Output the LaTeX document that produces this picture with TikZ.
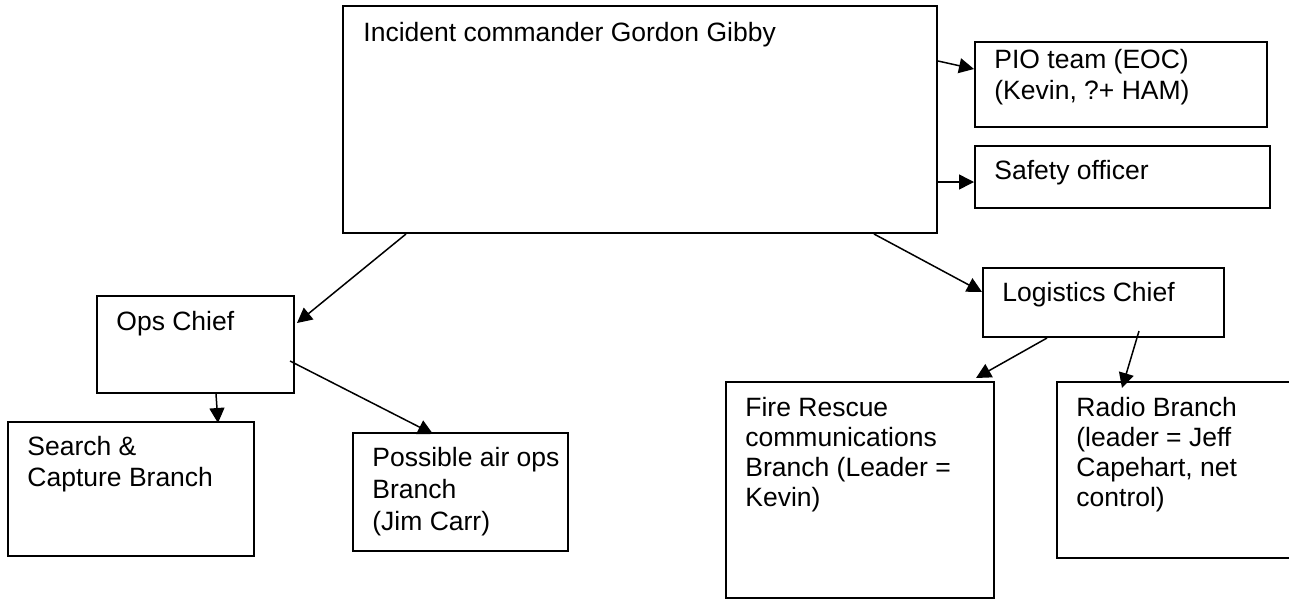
\documentclass[tikz,border=0pt]{standalone}
\usepackage{fontspec}
\setmainfont{Liberation Sans}
\usetikzlibrary{fit}
\usetikzlibrary{arrows.meta}

\tikzset{
  box/.style = {draw, line width=1pt, inner sep=0pt},
  boxtext/.style = {anchor=base west, align=left, inner sep=0pt,
                    font=\fontsize{13.25}{15.25}\selectfont},
  link/.style = {line width=0.75pt, -{Triangle[length=7.5pt,width=7.5pt]}}
}

\begin{document}
\begin{tikzpicture}[x=0.5pt, y=-0.5pt]
     \clip (0,0) rectangle (1289,600);
     % boxes
     \foreach \nm/\xa/\ya/\xb/\yb in {ic/343/6/937/233, pio/975/42/1267/127,
                                     safety/975/146/1270/208, ops/97/296/294/393,
                                     search/8/422/254/556, air/353/433/568/551,
                                     logs/983/268/1224/337, fire/726/382/994/598,
                                     radio/1057/382/1295/558}
       \node[box, fit={(\xa,\ya) (\xb,\yb)}] (\nm) {};

     % texts sit on the baseline of their last line
     \node[boxtext] (ic-t) at ([shift={(21,36)}]ic.north west) {Incident commander Gordon Gibby};
     \node[boxtext] (pio-t) at ([shift={(20,58)}]pio.north west) {PIO team (EOC)\\(Kevin, ?+ HAM)};
     \node[boxtext] (safety-t) at ([shift={(20,34)}]safety.north west) {Safety officer};
     \node[boxtext] (ops-t) at ([shift={(20,35)}]ops.north west) {Ops Chief};
     \node[boxtext] (search-t) at ([shift={(20,65)}]search.north west) {Search \&\\Capture Branch};
     \node[boxtext, font=\fontsize{13.25}{16}\selectfont] (air-t) at ([shift={(20,98)}]air.north west) {Possible air ops\\Branch\\(Jim Carr)};
     \node[boxtext] (logs-t) at ([shift={(20,34)}]logs.north west) {Logistics Chief};
     \node[boxtext, font=\fontsize{13.25}{15}\selectfont] (fire-t) at ([shift={(20,125)}]fire.north west) {Fire Rescue\\communications\\Branch (Leader =\\Kevin)};
     \node[boxtext, font=\fontsize{13.25}{15}\selectfont] (radio-t) at ([shift={(20,125)}]radio.north west) {Radio Branch\\(leader = Jeff\\Capehart, net\\control)};

     % arrows
     \draw[link] ([shift={(0,56)}]ic.north east) -- ([shift={(0,28)}]pio.north west);
     \draw[link] ([shift={(0,177)}]ic.north east) -- ([shift={(0,37)}]safety.north west);
     \draw[link] ([shift={(64,0)}]ic.south west) -- ([shift={(2,28)}]ops.north east);
     \draw[link] ([shift={(532,0)}]ic.south west) -- ([shift={(0,25)}]logs.north west);
     \draw[link] ([shift={(120,0)}]ops.south west) -- ([shift={(211,2)}]search.north west);
     \draw[link] ([shift={(-5,66)}]ops.north east) -- ([shift={(81,2)}]air.north west);
     \draw[link] ([shift={(65,0)}]logs.south west) -- ([shift={(251,-3)}]fire.north west);
     \draw[link] ([shift={(157,-7)}]logs.south west) -- ([shift={(66,7)}]radio.north west);
\end{tikzpicture}
\end{document}
